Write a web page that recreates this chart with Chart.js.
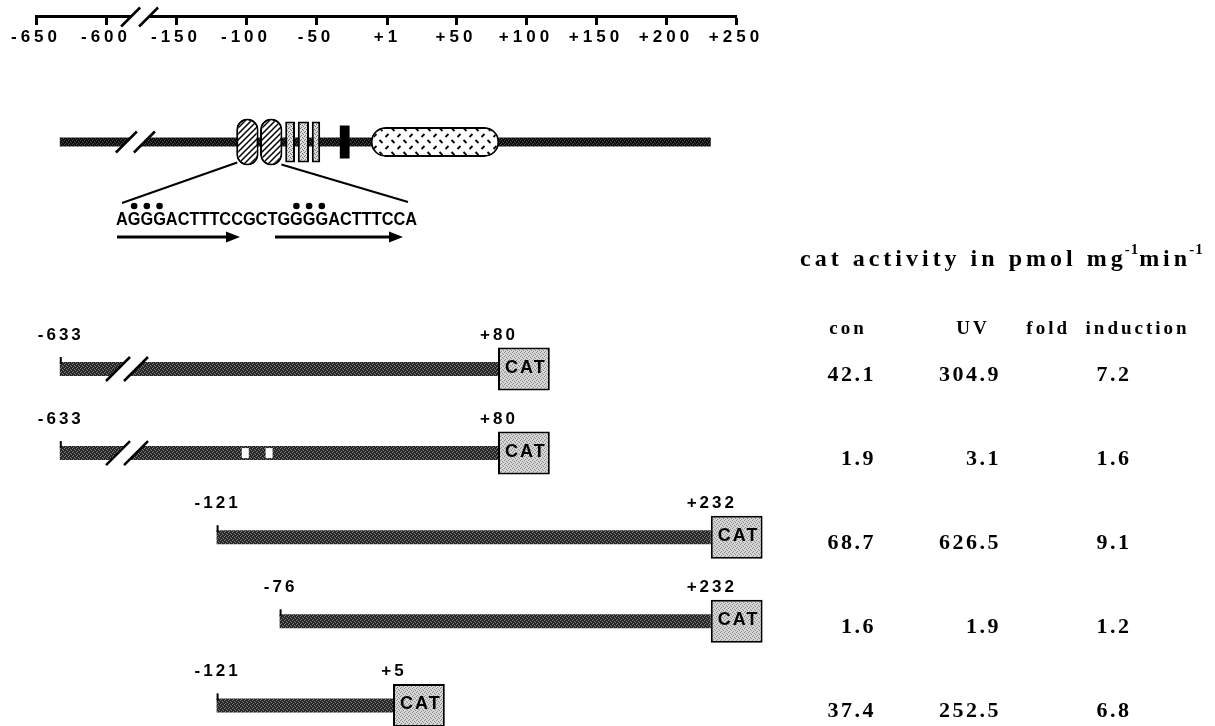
<!DOCTYPE html>
<html>
<head>
<meta charset="utf-8">
<title>LTR deletion constructs and CAT activity</title>
<script src="https://cdn.jsdelivr.net/npm/chart.js@4.4.0/dist/chart.umd.min.js"></script>
<style>
  html, body { margin: 0; padding: 0; background: #fff; }
  #wrap { width: 1215px; height: 726px; }
</style>
</head>
<body>
<div id="wrap"><canvas id="myChart" width="1215" height="726"></canvas></div>
<script>
// ruler, broken between -600 and -150
const rulerTicks = [-650, -600, -150, -100, -50, 1, 50, 100, 150, 200, 250];
const tickLabels = ['-650', '-600', '-150', '-100', '-50', '+1', '+50', '+100', '+150', '+200', '+250'];

// promoter map
const geneSpan = [-633, 232];
const nfkbSites = [[-107, -91], [-90, -74]];
const sp1Sites = [[-72, -65], [-63, -55], [-53, -47]];
const tataBox = [[-33, -26]];
const tarRegion = [[-11, 81]];
const kbSequence = 'AGGGACTTTCCGCTGGGGACTTTCCA';
const dottedBases = [1, 2, 3, 15, 16, 17];

// reporter constructs
const constructStart = [-633, -633, -121, -76, -121];
const constructEnd = [80, 80, 232, 232, 5];
const mutatedSites = [[-103, -98], [-86, -81]]; // construct 2 only
const reporterName = 'CAT';

// cat activity table
const titleParts = ['cat activity in pmol mg', '-1', 'min', '-1'];
const colHeaders = ['con', 'UV', 'fold  induction'];
const conValues = [42.1, 1.9, 68.7, 1.6, 37.4];
const uvValues = [304.9, 3.1, 626.5, 1.9, 252.5];
const foldValues = [7.2, 1.6, 9.1, 1.2, 6.8];

const FONT_SANS = "'Liberation Sans', Arial, Helvetica, sans-serif";
const FONT_SERIF = "'Liberation Serif', 'Times New Roman', serif";

// squeeze the -650..-600 stretch next to -150
function toAxis(v) {
    return v < -400 ? v + 400 : v;
}
const fmtPos = v => (v > 0 ? '+' + v : String(v));

// vertical layout: construct rows are 1..5, one row = ROW_PX pixels
const ROW_PX = 84.1, FIRST_ROW_PX = 369;
const rowAt = px => 1 - (FIRST_ROW_PX - px) / ROW_PX;
const RULER_ROW = rowAt(17);
const MAP_ROW = rowAt(142);
const CAT_LEN = 37;
const BREAK_RULER = -176, BREAK_MAP = -179, BREAK_CONSTRUCT = -185;

// fill patterns
const mainCtx = document.getElementById('myChart').getContext('2d');
function makePattern(w, h, paint) {
    const c = document.createElement('canvas');
    c.width = w;
    c.height = h;
    paint(c.getContext('2d'));
    return mainCtx.createPattern(c, 'repeat');
}
function speckle(base, dot) {
    return makePattern(4, 4, g => {
        g.fillStyle = base;
        g.fillRect(0, 0, 4, 4);
        g.fillStyle = dot;
        [[0, 0], [2, 1], [1, 3], [3, 2]].forEach(p => g.fillRect(p[0], p[1], 1, 1));
    });
}
const darkFill = speckle('#262626', '#808080');
const lineFill = speckle('#0d0d0d', '#4a4a4a');
const catFill = speckle('#d6d6d6', '#8a8a8a');
const sp1Fill = speckle('#dedede', '#707070');
const hatchFill = makePattern(6, 6, g => {
    g.fillStyle = '#fff';
    g.fillRect(0, 0, 6, 6);
    g.strokeStyle = '#000';
    g.lineWidth = 1.5;
    g.beginPath();
    g.moveTo(-1, 7); g.lineTo(7, -1);
    g.moveTo(-1, 1); g.lineTo(1, -1);
    g.moveTo(5, 7); g.lineTo(7, 5);
    g.stroke();
});
const tarFill = makePattern(12, 12, g => {
    g.fillStyle = '#fff';
    g.fillRect(0, 0, 12, 12);
    g.strokeStyle = '#000';
    g.lineWidth = 1.8;
    g.beginPath();
    g.moveTo(1.5, 5); g.lineTo(4.5, 2);
    g.moveTo(7.5, 8); g.lineTo(10.5, 11);
    g.stroke();
});

const spans = (pairs, row) => pairs.map(p => ({ x: [toAxis(p[0]), toAxis(p[1])], y: row }));
const common = { grouped: false, clip: false, borderSkipped: false, inflateAmount: 0 };

function drawBreak(ctx, cx, cy, half, h) {
    const gap = 9, dx = h / 2, s = half * dx / (h / 2);
    ctx.save();
    ctx.fillStyle = '#fff';
    ctx.beginPath();
    ctx.moveTo(cx - gap - s, cy + half);
    ctx.lineTo(cx + gap - s, cy + half);
    ctx.lineTo(cx + gap + s, cy - half);
    ctx.lineTo(cx - gap + s, cy - half);
    ctx.closePath();
    ctx.fill();
    ctx.strokeStyle = '#000';
    ctx.lineWidth = 2.5;
    [-gap, gap].forEach(o => {
        ctx.beginPath();
        ctx.moveTo(cx + o - dx, cy + h / 2);
        ctx.lineTo(cx + o + dx, cy - h / 2);
        ctx.stroke();
    });
    ctx.restore();
}

function arrow(ctx, x1, x2, y) {
    ctx.lineWidth = 3;
    ctx.beginPath();
    ctx.moveTo(x1, y);
    ctx.lineTo(x2 - 10, y);
    ctx.stroke();
    ctx.beginPath();
    ctx.moveTo(x2, y);
    ctx.lineTo(x2 - 14, y - 5.5);
    ctx.lineTo(x2 - 14, y + 5.5);
    ctx.closePath();
    ctx.fill();
}

const decor = {
    id: 'decor',
    beforeDraw(chart) {
        chart.ctx.letterSpacing = '4px'; // wide ruler labels
    },
    afterDraw(chart) {
        const ctx = chart.ctx;
        const xs = chart.scales.x, ys = chart.scales.y;
        const meta = label => chart.getDatasetMeta(chart.data.datasets.findIndex(d => d.label === label));
        ctx.save();
        ctx.fillStyle = '#000';
        ctx.strokeStyle = '#000';

        // axis breaks
        drawBreak(ctx, xs.getPixelForValue(BREAK_RULER), ys.getPixelForValue(RULER_ROW), 2.5, 19);
        drawBreak(ctx, xs.getPixelForValue(BREAK_MAP), ys.getPixelForValue(MAP_ROW), 5.5, 21);
        constructStart.forEach((s, i) => {
            if (s < -400) drawBreak(ctx, xs.getPixelForValue(BREAK_CONSTRUCT), ys.getPixelForValue(i + 1), 8, 24);
        });

        // construct end labels and start marks
        ctx.textAlign = 'center';
        ctx.textBaseline = 'middle';
        meta('constructs').data.forEach((el, i) => {
            const sx = Math.min(el.x, el.base), ex = Math.max(el.x, el.base);
            const top = el.y - el.height / 2;
            ctx.lineWidth = 2;
            ctx.beginPath();
            ctx.moveTo(sx + 1, top - 5);
            ctx.lineTo(sx + 1, top + 2);
            ctx.stroke();
            ctx.font = `bold 17px ${FONT_SANS}`;
            ctx.letterSpacing = '3px';
            ctx.fillText(fmtPos(constructStart[i]), sx + 1, el.y - 34);
            ctx.fillText(fmtPos(constructEnd[i]), ex + 1, el.y - 34);
        });
        meta('cat').data.forEach(el => {
            const l = Math.min(el.x, el.base), r = Math.max(el.x, el.base);
            ctx.font = `bold 18px ${FONT_SANS}`;
            ctx.letterSpacing = '2px';
            ctx.fillText(reporterName, (l + r) / 2 + 2, el.y - 1);
        });

        // kB enhancer inset
        const ov = meta('nfkb').data;
        const o1 = ov[0], o2 = ov[ov.length - 1];
        const oBottom = o1.y + o1.height / 2;
        ctx.lineWidth = 2;
        ctx.beginPath();
        ctx.moveTo(Math.min(o1.x, o1.base) + 1, oBottom - 3);
        ctx.lineTo(122, 203);
        ctx.moveTo(Math.max(o2.x, o2.base) - 1, oBottom - 1);
        ctx.lineTo(408, 202);
        ctx.stroke();

        const SEQ_X = 116, SEQ_W = 301, SEQ_BASE = 225;
        ctx.font = `bold 19px ${FONT_SANS}`;
        ctx.letterSpacing = '0px';
        ctx.textAlign = 'left';
        ctx.textBaseline = 'alphabetic';
        const k = Math.min(1, SEQ_W / ctx.measureText(kbSequence).width);
        ctx.fillText(kbSequence, SEQ_X, SEQ_BASE, SEQ_W);
        dottedBases.forEach(i => {
            const cx = SEQ_X + k * (ctx.measureText(kbSequence.slice(0, i)).width + ctx.measureText(kbSequence[i]).width / 2);
            ctx.beginPath();
            ctx.arc(cx, SEQ_BASE - 19, 3.3, 0, Math.PI * 2);
            ctx.fill();
        });
        arrow(ctx, 117, 240, 237);
        arrow(ctx, 275, 403, 237);

        // activity table
        let tx = 800;
        titleParts.forEach((t, i) => {
            const sup = i % 2 === 1;
            ctx.font = `bold ${sup ? 15 : 24}px ${FONT_SERIF}`;
            ctx.letterSpacing = sup ? '1px' : '4px';
            ctx.fillText(t, tx, sup ? 254 : 266);
            tx += ctx.measureText(t).width - (sup ? 0 : 2);
        });

        ctx.font = `bold 19px ${FONT_SERIF}`;
        ctx.letterSpacing = '3px';
        ctx.textAlign = 'center';
        [848, 973, 1108].forEach((cx, i) => ctx.fillText(colHeaders[i], cx, 334));

        ctx.font = `bold 22px ${FONT_SERIF}`;
        ctx.letterSpacing = '2.5px';
        conValues.forEach((v, i) => {
            const by = ys.getPixelForValue(i + 1) + 12;
            ctx.textAlign = 'right';
            ctx.fillText(v.toFixed(1), 876, by);
            ctx.fillText(uvValues[i].toFixed(1), 1001, by);
            ctx.textAlign = 'center';
            ctx.fillText(foldValues[i].toFixed(1), 1114, by);
        });
        ctx.restore();
    }
};

const myChart = new Chart(mainCtx, {
    type: 'bar',
    data: {
        datasets: [
            { ...common, label: 'mutations', data: spans(mutatedSites, 2), backgroundColor: '#fff', barThickness: 10 },
            {
                ...common, label: 'cat', barThickness: 43,
                data: constructEnd.map((e, i) => ({ x: [toAxis(e), toAxis(e) + CAT_LEN], y: i + 1 })),
                backgroundColor: catFill, borderColor: '#000', borderWidth: 2
            },
            {
                ...common, label: 'constructs', barThickness: 14, backgroundColor: darkFill,
                data: constructStart.map((s, i) => ({ x: [toAxis(s), toAxis(constructEnd[i])], y: i + 1 }))
            },
            { ...common, label: 'tata', data: spans(tataBox, MAP_ROW), backgroundColor: '#000', barThickness: 33 },
            {
                ...common, label: 'sp1', data: spans(sp1Sites, MAP_ROW), backgroundColor: sp1Fill,
                borderColor: '#000', borderWidth: 2, barThickness: 41
            },
            {
                ...common, label: 'nfkb', data: spans(nfkbSites, MAP_ROW), backgroundColor: hatchFill,
                borderColor: '#000', borderWidth: 2, borderRadius: 12, barThickness: 47
            },
            {
                ...common, label: 'tar', data: spans(tarRegion, MAP_ROW), backgroundColor: tarFill,
                borderColor: '#000', borderWidth: 2, borderRadius: 15, barThickness: 30
            },
            { ...common, label: 'ltr', data: spans([geneSpan], MAP_ROW), backgroundColor: lineFill, barThickness: 9 }
        ]
    },
    options: {
        indexAxis: 'y',
        responsive: false,
        animation: false,
        events: [],
        layout: { padding: { left: 36, right: 479, top: 0, bottom: 0 } },
        plugins: {
            legend: { display: false },
            tooltip: { enabled: false }
        },
        scales: {
            x: {
                type: 'linear',
                min: -250,
                max: 250,
                position: { y: RULER_ROW },
                afterBuildTicks: scale => {
                    scale.ticks = rulerTicks.map(v => ({ value: toAxis(v) }));
                },
                ticks: {
                    callback: (value, index) => tickLabels[index],
                    autoSkip: false,
                    maxRotation: 0,
                    padding: 3,
                    color: '#000',
                    font: { family: FONT_SANS, weight: 'bold', size: 17 }
                },
                grid: { drawOnChartArea: false, drawTicks: true, tickLength: 7, tickWidth: 3, tickColor: '#000' },
                border: { display: true, color: '#000', width: 3 }
            },
            y: {
                type: 'linear',
                reverse: true,
                offset: false,
                min: rowAt(0),
                max: rowAt(726),
                display: false
            }
        }
    },
    plugins: [decor]
});
</script>
</body>
</html>
